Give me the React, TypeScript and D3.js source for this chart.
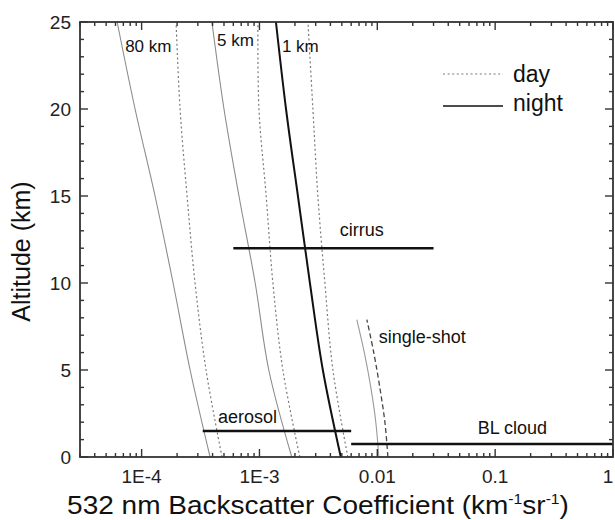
import React from 'react';
import * as d3 from 'd3';

// Altitude grid (km) for the sensitivity profiles
const altitudes = [0, 5, 10, 15, 20, 25];

// 532 nm backscatter detection limits (km^-1 sr^-1), per horizontal averaging
const night80km = [3.81e-4, 2.58e-4, 1.85e-4, 1.3e-4, 8.8e-5, 6.2e-5];
const day80km = [4.81e-4, 3.52e-4, 2.84e-4, 2.43e-4, 2.12e-4, 1.96e-4];
const night5km = [1.88e-3, 1.2e-3, 9.2e-4, 6.7e-4, 5.0e-4, 3.95e-4];
const day5km = [2.2e-3, 1.58e-3, 1.3e-3, 1.14e-3, 9.9e-4, 9.7e-4];
const night1km = [4.9e-3, 3.45e-3, 2.68e-3, 2.12e-3, 1.68e-3, 1.38e-3];
const day1km = [5.62e-3, 4.2e-3, 3.59e-3, 3.13e-3, 2.84e-3, 2.58e-3];

// single-shot profiles only go up to ~8 km
const singleShotAlt = [0, 2, 4, 6, 7.9];
const singleShotNight = [1.03e-2, 9.71e-3, 8.81e-3, 7.76e-3, 6.7e-3];
const singleShotDay = [1.23e-2, 1.16e-2, 1.05e-2, 9.33e-3, 8.15e-3];

// typical backscatter ranges of features
const features = ['cirrus', 'aerosol', 'BL cloud'];
const featureAlt = [12, 1.5, 0.75];
const featureMin = [6e-4, 3.3e-4, 6e-3];
const featureMax = [0.03, 6e-3, 1];

const xTickValues = [1e-4, 1e-3, 1e-2, 1e-1, 1];
const xTickLabels = ['1E-4', '1E-3', '0.01', '0.1', '1'];
const yTickValues = [0, 5, 10, 15, 20, 25];

const W = 615;
const H = 520;
const FONT = '"Liberation Sans", Arial, sans-serif';

const App = () => {
    const margin = { top: 22, right: 2, bottom: 63, left: 80 };
    const x = d3.scaleLog().domain([3e-5, 1]).range([margin.left, W - margin.right]);
    const y = d3.scaleLinear().domain([0, 25]).range([H - margin.bottom, margin.top]);
    const [x0, x1] = x.range();
    const [y0, y1] = y.range();

    const line = d3.line<[number, number]>()
        .x(d => x(d[0]))
        .y(d => y(d[1]))
        .curve(d3.curveCatmullRom);

    const profile = (vals: number[], alts: number[]) =>
        line(vals.map((v, i) => [v, alts[i]] as [number, number])) || '';

    // minor ticks on the log axis: 2..9 in every decade
    const xMinor: number[] = [];
    for (let k = -5; k <= -1; k++) {
        for (let m = 2; m <= 9; m++) {
            const v = m * Math.pow(10, k);
            if (v >= 3e-5 && v < 1) xMinor.push(v);
        }
    }
    const yMinor = d3.range(0, 26).filter(v => v % 5 !== 0);

    const axisColor = '#333';
    const major = 8;
    const minor = 4;

    const gray = '#8c8c8c';
    const dotted = { stroke: '#7a7a7a', strokeWidth: 1.2, strokeDasharray: '2,2.6', fill: 'none' };

    return (
        <svg width={W} height={H} style={{ position: 'absolute', left: 0, top: 0, background: '#fff' }}
             fontFamily={FONT}>
            {/* profiles */}
            <path d={profile(night80km, altitudes)} fill="none" stroke={gray} strokeWidth={1.1} />
            <path d={profile(day80km, altitudes)} {...dotted} />
            <path d={profile(night5km, altitudes)} fill="none" stroke={gray} strokeWidth={1.1} />
            <path d={profile(day5km, altitudes)} {...dotted} />
            <path d={profile(night1km, altitudes)} fill="none" stroke="#111" strokeWidth={2} />
            <path d={profile(day1km, altitudes)} {...dotted} />
            <path d={profile(singleShotNight, singleShotAlt)} fill="none" stroke="#9a9a9a" strokeWidth={1.1} />
            <path d={profile(singleShotDay, singleShotAlt)}
                  fill="none" stroke="#444" strokeWidth={1.3} strokeDasharray="5,3" />

            {/* feature ranges */}
            {features.map((f, i) => (
                <line key={f} x1={x(featureMin[i])} x2={x(featureMax[i])} y1={y(featureAlt[i])} y2={y(featureAlt[i])}
                      stroke="#111" strokeWidth={2.5} />
            ))}

            {/* annotations */}
            <g fontSize={17} fill="#111">
                <text x={x(7.25e-5)} y={y(23.28)}>80 km</text>
                <text x={x(4.36e-4)} y={y(23.62)}>5 km</text>
                <text x={x(1.55e-3)} y={y(23.28)}>1 km</text>
                <text x={x(4.8e-3)} y={y(12.7)} fontSize={18}>{features[0]}</text>
                <text x={x(4.45e-4)} y={y(1.95)} fontSize={18}>{features[1]}</text>
                <text x={x(0.071)} y={y(1.32)} fontSize={18}>{features[2]}</text>
                <text x={x(1.03e-2)} y={y(6.55)} fontSize={18}>single-shot</text>
            </g>

            {/* legend */}
            <line x1={443} x2={503} y1={74} y2={74} {...dotted} />
            <text x={513} y={82} fontSize={23} fill="#111">day</text>
            <line x1={443} x2={503} y1={106} y2={106} stroke="#111" strokeWidth={1.6} />
            <text x={513} y={111} fontSize={23} fill="#111">night</text>

            {/* frame + ticks */}
            <g stroke={axisColor} strokeWidth={1.4}>
                {xTickValues.map(v => (
                    <g key={'xm' + v}>
                        <line x1={x(v)} x2={x(v)} y1={y0} y2={y0 - major} />
                        <line x1={x(v)} x2={x(v)} y1={y1} y2={y1 + major} />
                    </g>
                ))}
                {xMinor.map(v => (
                    <g key={'xn' + v}>
                        <line x1={x(v)} x2={x(v)} y1={y0} y2={y0 - minor} />
                        <line x1={x(v)} x2={x(v)} y1={y1} y2={y1 + minor} />
                    </g>
                ))}
                {yTickValues.map(v => (
                    <g key={'ym' + v}>
                        <line x1={x0} x2={x0 + major} y1={y(v)} y2={y(v)} />
                        <line x1={x1} x2={x1 - major} y1={y(v)} y2={y(v)} />
                    </g>
                ))}
                {yMinor.map(v => (
                    <g key={'yn' + v}>
                        <line x1={x0} x2={x0 + minor} y1={y(v)} y2={y(v)} />
                        <line x1={x1} x2={x1 - minor} y1={y(v)} y2={y(v)} />
                    </g>
                ))}
                <rect x={x0} y={y1} width={x1 - x0} height={y0 - y1} fill="none" strokeWidth={1.8} />
            </g>

            {/* tick labels */}
            <g fontSize={19} fill="#222">
                {xTickValues.map((v, i) => (
                    <text key={'xl' + v} x={Math.min(x(v), W - 7)} y={y0 + 26} textAnchor="middle">{xTickLabels[i]}</text>
                ))}
                {yTickValues.map(v => (
                    <text key={'yl' + v} x={x0 - 9} y={y(v) + 7} textAnchor="end">{v}</text>
                ))}
            </g>

            {/* axis titles */}
            <text transform="translate(318,514) scale(1.12,1)" textAnchor="middle" fontSize={25} fill="#111">
                532 nm Backscatter Coefficient (km
                <tspan fontSize={14} dy={-10}>-1</tspan>
                <tspan dy={10}>sr</tspan>
                <tspan fontSize={14} dy={-10}>-1</tspan>
                <tspan dy={10}>)</tspan>
            </text>
            <text transform={`translate(30,${(y0 + y1) / 2 + 12}) rotate(-90)`} textAnchor="middle"
                  fontSize={25} fill="#111">Altitude (km)</text>
        </svg>
    );
};

export default App;
